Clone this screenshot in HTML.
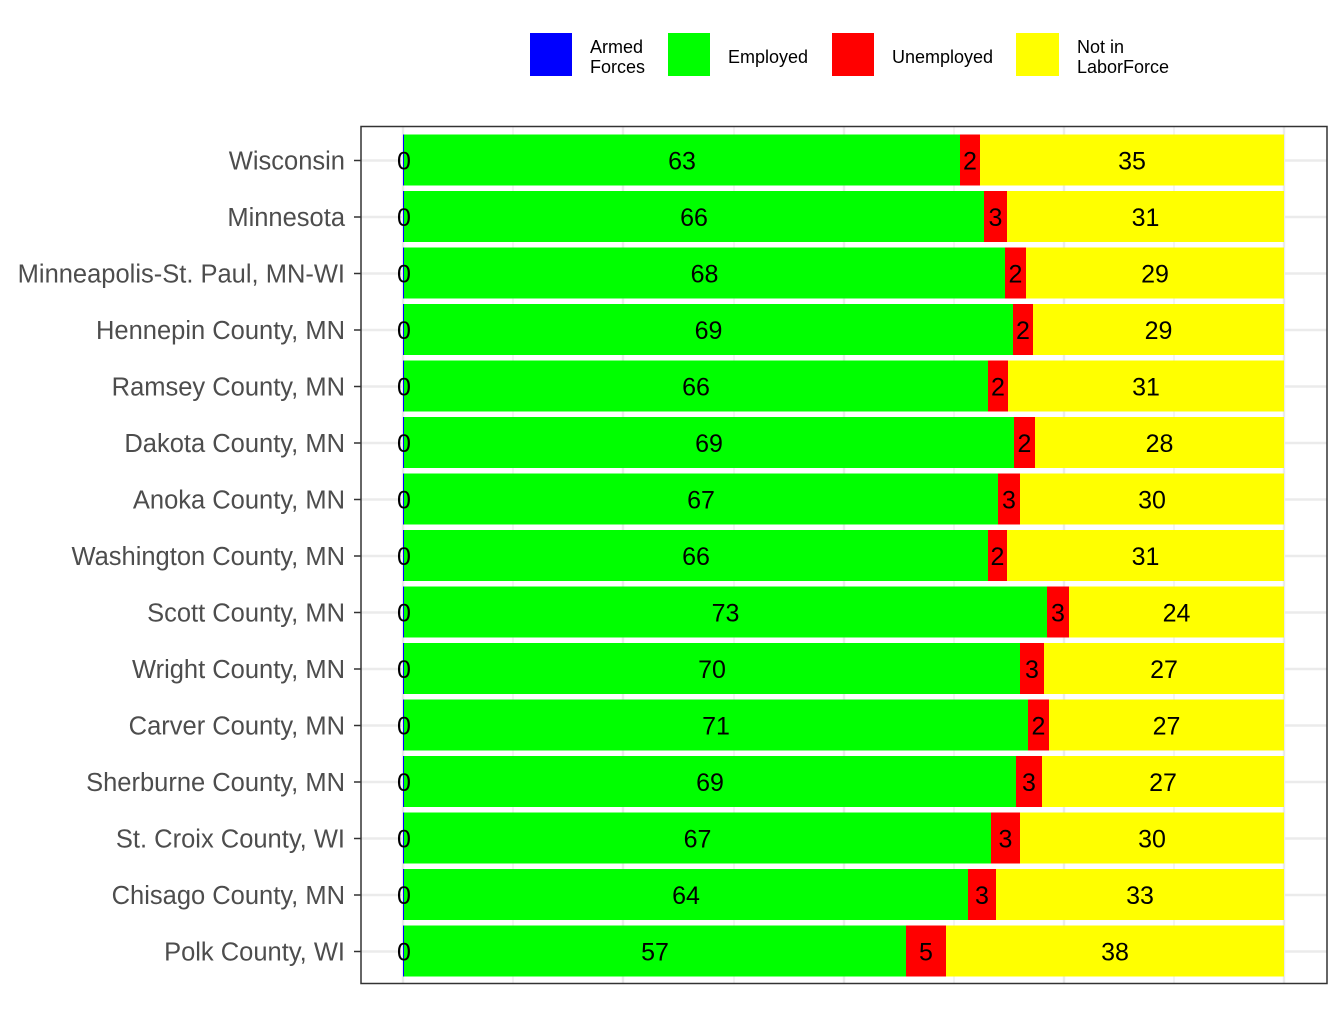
<!DOCTYPE html><html><head><style>body{margin:0;background:#fff}svg text{font-family:"Liberation Sans",Arial,sans-serif}</style></head><body>
<svg width="1344" height="1008" xmlns="http://www.w3.org/2000/svg">
<rect x="530" y="33" width="42" height="43" fill="#0000ff"/>
<text x="590" y="53" font-size="18">Armed</text><text x="590" y="73" font-size="18">Forces</text>
<rect x="668" y="33" width="42" height="43" fill="#00ff00"/>
<text x="728" y="63" font-size="18">Employed</text>
<rect x="832" y="33" width="42" height="43" fill="#ff0000"/>
<text x="892" y="63" font-size="18">Unemployed</text>
<rect x="1016" y="33" width="43" height="43" fill="#ffff00"/>
<text x="1077" y="53" font-size="18">Not in</text><text x="1077" y="73" font-size="18">LaborForce</text>
<g stroke="#ebebeb" stroke-width="1.2">
<line x1="513" y1="127" x2="513" y2="983"/><line x1="734" y1="127" x2="734" y2="983"/><line x1="954" y1="127" x2="954" y2="983"/><line x1="1174" y1="127" x2="1174" y2="983"/>
</g>
<g stroke="#ebebeb" stroke-width="2.4" id="grid"></g>
<g id="bars"></g>
<rect x="361" y="126.5" width="966" height="857" fill="none" stroke="#333" stroke-width="1.5"/>
</svg>
<script>
const rows=[["Wisconsin",960,980,63,2,35],["Minnesota",984,1007,66,3,31],["Minneapolis-St. Paul, MN-WI",1005,1026,68,2,29],["Hennepin County, MN",1013,1033,69,2,29],["Ramsey County, MN",988,1008,66,2,31],["Dakota County, MN",1014,1035,69,2,28],["Anoka County, MN",998,1020,67,3,30],["Washington County, MN",988,1007,66,2,31],["Scott County, MN",1047,1069,73,3,24],["Wright County, MN",1020,1044,70,3,27],["Carver County, MN",1028,1049,71,2,27],["Sherburne County, MN",1016,1042,69,3,27],["St. Croix County, WI",991,1020,67,3,30],["Chisago County, MN",968,996,64,3,33],["Polk County, WI",906,946,57,5,38]];
const ns="http://www.w3.org/2000/svg";
const g=document.getElementById("grid"),b=document.getElementById("bars"),svg=document.querySelector("svg");
function el(p,t,a,txt){const e=document.createElementNS(ns,t);for(const k in a)e.setAttribute(k,a[k]);if(txt!==undefined)e.textContent=txt;p.appendChild(e);return e;}
[403,623,844,1064,1284].forEach(x=>el(g,"line",{x1:x,y1:127,x2:x,y2:983}));
rows.forEach((r,i)=>{const c=160.5+i*56.5;el(g,"line",{x1:361,y1:c,x2:1327,y2:c});});
rows.forEach((r,i)=>{const c=160.5+i*56.5,y=c-26,h=51;
el(b,"rect",{x:403,y:y,width:2,height:h,fill:"#0000ff"});
el(b,"rect",{x:404,y:y,width:r[1]-404,height:h,fill:"#00ff00"});
el(b,"rect",{x:r[1],y:y,width:r[2]-r[1],height:h,fill:"#ff0000"});
el(b,"rect",{x:r[2],y:y,width:1284-r[2],height:h,fill:"#ffff00"});
const t=(x,s)=>el(b,"text",{x:x,y:c+9,"font-size":25,"text-anchor":"middle"},s);
t(404,"0");t((404+r[1])/2,r[3]);t((r[1]+r[2])/2,r[4]);t((r[2]+1284)/2,r[5]);
el(svg,"line",{x1:354,y1:c,x2:361,y2:c,stroke:"#333","stroke-width":1.5});
el(svg,"text",{x:345,y:c+9,"font-size":25.5,"text-anchor":"end",fill:"#4d4d4d"},r[0]);
});
</script></body></html>
